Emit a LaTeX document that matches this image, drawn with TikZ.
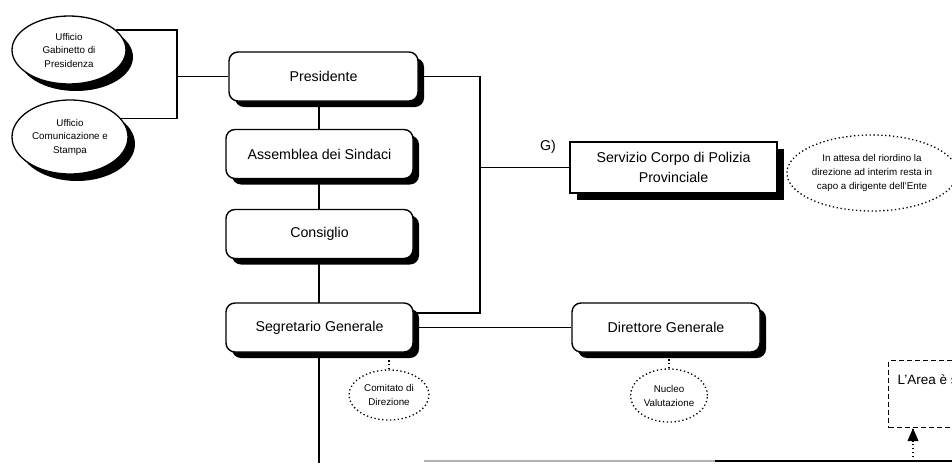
\documentclass[tikz,border=0pt]{standalone}
\usepackage{fontspec}
\setmainfont{Liberation Sans}
\usetikzlibrary{shapes.geometric,shadows,arrows.meta,backgrounds,calc}
\begin{document}
\begin{tikzpicture}[x=1pt,y=-1pt,
  conn/.style={line width=1.4pt},
  dotc/.style={line width=1.3pt, dash pattern=on 1.3pt off 2.6pt},
  bshadow/.style={drop shadow={shadow xshift=#1, shadow yshift=-#1, fill=black, opacity=1}},
  rbox/.style={draw, line width=1.4pt, rounded corners=9pt, fill=white,
    minimum width=187pt, minimum height=49pt, inner sep=0pt,
    font=\fontsize{14.2}{16}\selectfont, bshadow=6pt},
  sbox/.style={draw, line width=1.4pt, fill=white, align=center,
    minimum width=207pt, minimum height=51pt, inner sep=0pt,
    font=\fontsize{14.2}{20}\selectfont, bshadow=7pt},
  ell/.style={ellipse, draw, line width=1.3pt, fill=white, inner sep=0pt, align=center,
    font=\fontsize{9.8}{13.5}\selectfont, bshadow=7pt},
  dell/.style={ellipse, draw, dotc, fill=white, inner sep=0pt, align=center,
    font=\fontsize{9.8}{14}\selectfont},
  abox/.style={draw, line width=1.2pt, dash pattern=on 5pt off 3pt, inner xsep=9pt, inner ysep=0pt,
    font=\fontsize{13.5}{16}\selectfont, anchor=north west}
]
\useasboundingbox (0,0) rectangle (952,463);

% nodes
\node[ell, minimum width=114pt, minimum height=68pt] (g1) at (69,50) {Ufficio\\Gabinetto di\\Presidenza};
\node[ell, minimum width=116pt, minimum height=74pt] (g2) at (70,137) {Ufficio\\Comunicazione e\\Stampa};
\node[rbox, minimum width=189pt] (pres) at (323.5,76.5) {Presidente};
\node[rbox] (ass) at (319.5,154) {Assemblea dei Sindaci};
\node[rbox] (cons) at (319.5,234) {Consiglio};
\node[rbox] (segr) at (319.5,327.5) {Segretario Generale};
\node[rbox, minimum width=188pt] (dir) at (666,327.5) {Direttore Generale};
\node[sbox] (serv) at (673.5,167.5) {Servizio Corpo di Polizia\\Provinciale};
\node[font=\fontsize{14.2}{16}\selectfont, inner sep=0pt] (glab) at (548,147) {G)};
\node[dell, minimum width=164pt, minimum height=76pt] (nota) at (872,173)
  {In attesa del riordino la\\direzione ad interim resta in\\capo a dirigente dell'Ente};
\node[dell, minimum width=80pt, minimum height=50pt] (com) at (389,395) {Comitato di\\Direzione};
\node[dell, minimum width=77pt, minimum height=53pt] (nuc) at (669,395.5) {Nucleo\\Valutazione};
\node[abox] (area) at (888,360) {\parbox[c][67pt][t]{120pt}{\rule{0pt}{24pt}L'Area è s}};

% coordinates
\coordinate (jx) at (177,0);
\coordinate (rx) at (480,313);
\coordinate (bot) at (319,463);
\coordinate (hl) at (424,461);
\coordinate (hm) at (715,461);
\coordinate (hr) at (952,461);
\coordinate (ab) at (913,461);
\coordinate (at) at (ab |- area.south);

% connectors
\begin{pgfonlayer}{background}
\fill[white] (0,0) rectangle (952,463);
\draw[conn] (g1.23) -- (g1.23 -| jx) -- (g2.20 -| jx) -- (g2.20);
\draw[conn] (pres.west) -- (pres.west -| jx);
\draw[conn] (pres.east) -| (rx) -- (rx -| segr.east);
\draw[conn] (rx |- serv.west) -- (serv.west);
\draw[conn] (segr.east) -- (dir.west);
\draw[conn] (pres.south -| bot) -- (bot);
\draw[dotc] (com.north) -- (com.north |- segr.south);
\draw[dotc] (nuc.north) -- (nuc.north |- dir.south);
\draw[conn, black!30] (hl) -- (hm);
\draw[conn] (hm) -- (hr);
\end{pgfonlayer}
\draw[dotc] (ab) -- (at);
\draw[line width=1pt, -{Triangle[width=11pt,length=13pt]}] ($(at)+(0,14)$) -- (at);
\end{tikzpicture}
\end{document}
